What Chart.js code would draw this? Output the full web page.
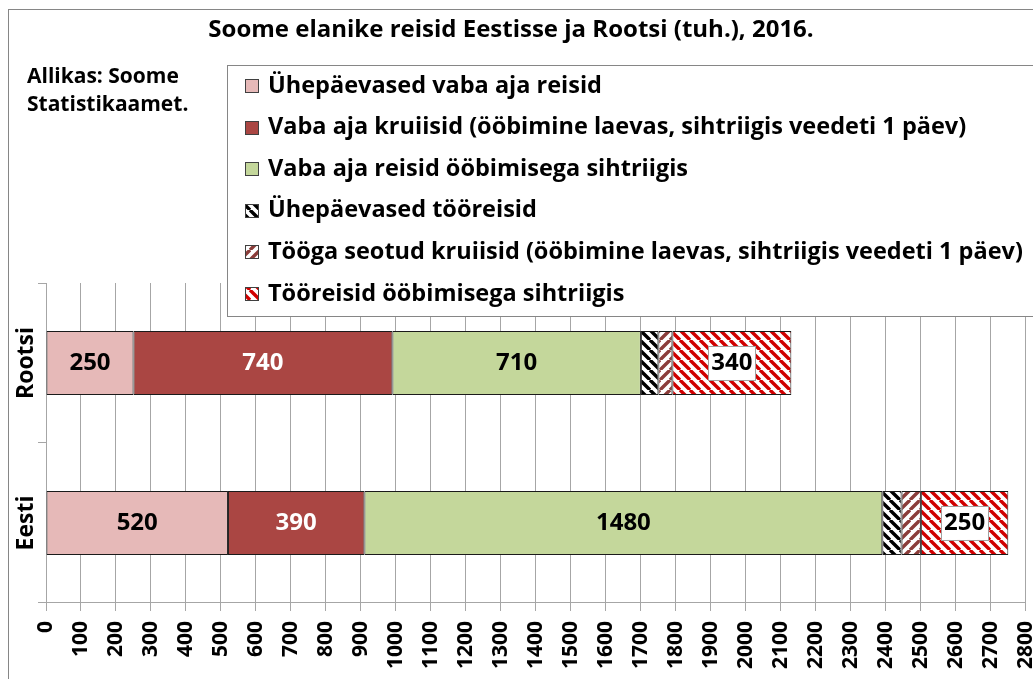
<!DOCTYPE html>
<html>
<head>
<meta charset="utf-8">
<script src="https://cdn.jsdelivr.net/npm/chart.js@4"></script>
<style>
html, body { margin: 0; padding: 0; background: #fff; overflow: hidden; }
#wrap { width: 1065px; height: 700px; }
</style>
</head>
<body>
<div id="wrap"><canvas id="grafik" width="1061" height="700"></canvas></div>
<script>
// andmed (tuh. reisi)
const riigid = ["Rootsi", "Eesti"];
const uhepaevasedVaba = [250, 520];
const vabaAjaKruiisid = [740, 390];
const vabaAjaOobimisega = [710, 1480];
const uhepaevasedToo = [50, 55];
const tooKruiisid = [40, 55];
const tooOobimisega = [340, 250];
const seeriaNimed = [
    "Ühepäevased vaba aja reisid",
    "Vaba aja kruiisid (ööbimine laevas, sihtriigis veedeti 1 päev)",
    "Vaba aja reisid ööbimisega sihtriigis",
    "Ühepäevased tööreisid",
    "Tööga seotud kruiisid (ööbimine laevas, sihtriigis veedeti 1 päev)",
    "Tööreisid ööbimisega sihtriigis"
];
const pealkiri = "Soome elanike reisid Eestisse ja Rootsi (tuh.), 2016.";
const allikas = ["Allikas: Soome", "Statistikaamet."];
const xMax = 2800;
const xSamm = 100;

const FONT = "'Open Sans', sans-serif";

function triibumuster(varv, suund) {
    const s = 10;
    const c = document.createElement("canvas");
    c.width = s; c.height = s;
    const g = c.getContext("2d");
    g.fillStyle = "#fff";
    g.fillRect(0, 0, s, s);
    g.strokeStyle = varv;
    g.lineWidth = 3.4;
    g.beginPath();
    for (let k = -1; k <= 1; k++) {
        if (suund === "\\") {
            g.moveTo(k * s, 0); g.lineTo(k * s + s, s);
        } else {
            g.moveTo(k * s, s); g.lineTo(k * s + s, 0);
        }
    }
    g.stroke();
    return g.createPattern(c, "repeat");
}

const ctx = document.getElementById("grafik").getContext("2d");

const andmed = [uhepaevasedVaba, vabaAjaKruiisid, vabaAjaOobimisega, uhepaevasedToo, tooKruiisid, tooOobimisega];
const taustad = [
    "#E6B9B8",
    "#AA4643",
    "#C4D79B",
    triibumuster("#000000", "\\"),
    triibumuster("#8B3D3A", "/"),
    triibumuster("#D00000", "\\")
];
const sildid = ["must", "valge", "must", null, null, "kast"];

const datasets = andmed.map((d, i) => ({
    label: seeriaNimed[i],
    data: d,
    backgroundColor: taustad[i],
    borderColor: "#1a1a1a",
    borderWidth: 1,
    borderSkipped: false,
    barPercentage: 0.4,
    categoryPercentage: 1,
    silt: sildid[i]
}));

const kujundus = {
    id: "kujundus",
    beforeDraw(chart) {
        const c = chart.ctx;
        c.save();
        c.fillStyle = "#fff";
        c.fillRect(0, 0, chart.width, chart.height);
        c.strokeStyle = "#868686";
        c.lineWidth = 1;
        c.strokeRect(8.5, 9.5, chart.width + 20, chart.height + 20);
        c.fillStyle = "#000";
        c.font = "bold 24px " + FONT;
        c.textAlign = "center";
        c.textBaseline = "middle";
        c.fillText(pealkiri, 511, 30);
        c.textAlign = "left";
        c.font = "bold 21px " + FONT;
        allikas.forEach((t, i) => c.fillText(t, 27, 77 + i * 28));
        c.restore();
    },
    afterDatasetsDraw(chart) {
        const c = chart.ctx;
        c.save();
        c.textAlign = "center";
        c.textBaseline = "middle";
        c.font = "bold 24px " + FONT;
        chart.data.datasets.forEach((ds, i) => {
            if (!ds.silt) return;
            chart.getDatasetMeta(i).data.forEach((el, j) => {
                const x = (el.x + el.base) / 2;
                const y = el.y;
                const tekst = String(ds.data[j]);
                if (ds.silt === "kast") {
                    const w = c.measureText(tekst).width + 6;
                    const h = 34;
                    c.fillStyle = "#fff";
                    c.fillRect(x - w / 2, y - h / 2, w, h);
                    c.strokeStyle = "#a0a0a0";
                    c.lineWidth = 1;
                    c.strokeRect(Math.round(x - w / 2) + 0.5, Math.round(y - h / 2) + 0.5, Math.round(w), h);
                }
                c.fillStyle = ds.silt === "valge" ? "#fff" : "#000";
                c.fillText(tekst, x, y);
            });
        });
        // kategooriate nimed
        const ys = chart.scales.y;
        c.font = "bold 23px " + FONT;
        c.fillStyle = "#000";
        riigid.forEach((r, i) => {
            c.save();
            c.translate(26, ys.getPixelForValue(i));
            c.rotate(-Math.PI / 2);
            c.fillText(r, 0, 0);
            c.restore();
        });
        c.restore();
    },
    afterDraw(chart) {
        const c = chart.ctx;
        c.save();
        c.fillStyle = "#fff";
        c.fillRect(227, 65, 840, 251);
        c.strokeStyle = "#868686";
        c.lineWidth = 1;
        c.strokeRect(227.5, 65.5, 840, 251);
        c.font = "bold 23.5px " + FONT;
        c.textAlign = "left";
        c.textBaseline = "middle";
        chart.data.datasets.forEach((ds, i) => {
            const y = 86 + i * 41.6;
            c.fillStyle = ds.backgroundColor;
            c.fillRect(245, Math.round(y - 7), 14, 14);
            c.strokeStyle = "#404040";
            c.strokeRect(245.5, Math.round(y - 7) + 0.5, 13, 13);
            c.fillStyle = "#000";
            c.fillText(ds.label, 268, y);
        });
        c.restore();
    }
};

new Chart(ctx, {
    type: "bar",
    data: { labels: riigid, datasets: datasets },
    plugins: [kujundus],
    options: {
        indexAxis: "y",
        responsive: false,
        animation: false,
        layout: { padding: { top: 283, left: 38, right: 5, bottom: 21 } },
        plugins: {
            legend: { display: false },
            title: { display: false },
            tooltip: { enabled: false }
        },
        scales: {
            x: {
                stacked: true,
                min: 0,
                max: xMax,
                ticks: {
                    stepSize: xSamm,
                    autoSkip: false,
                    minRotation: 90,
                    maxRotation: 90,
                    padding: 10,
                    color: "#000",
                    font: { family: FONT, size: 21, weight: "bold" },
                    callback: v => String(v)
                },
                grid: { color: "#a6a6a6", tickLength: 8 },
                border: { color: "#a6a6a6" }
            },
            y: {
                stacked: true,
                ticks: { display: false },
                grid: { drawOnChartArea: false, color: "#a6a6a6", tickLength: 8, offset: true },
                border: { color: "#a6a6a6" }
            }
        }
    }
});
</script>
</body>
</html>
